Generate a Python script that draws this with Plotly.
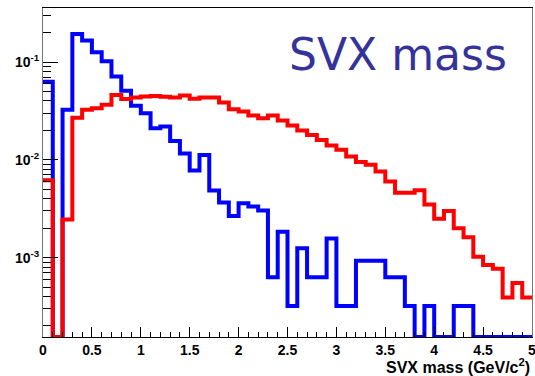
import numpy as np
import plotly.graph_objects as go

# bin edges for the SVX mass histograms (GeV/c^2)
bin_edges = [round(0.1 * i, 1) for i in range(51)]

blue_values = [
    0.063, 0.0, 0.0325, 0.194, 0.166, 0.126, 0.102, 0.071, 0.051, 0.0357,
    0.030, 0.0211, 0.0219, 0.0156, 0.0116, 0.0078, 0.0112, 0.00485, 0.00366, 0.00267,
    0.0036, 0.00333, 0.00303, 0.00063, 0.00184, 0.00032, 0.00125, 0.00063, 0.00063, 0.00157,
    0.00032, 0.00032, 0.00093, 0.00093, 0.00093, 0.00063, 0.00063, 0.00032, 0.0, 0.00032,
    0.0, 0.0, 0.00032, 0.00032, 0.0, 0.0, 0.0, 0.0, 0.0, 0.0,
]

red_values = [
    0.0062, 0.0, 0.00245, 0.027, 0.0325, 0.0338, 0.0366, 0.046, 0.042, 0.0435,
    0.0445, 0.045, 0.0442, 0.0435, 0.0455, 0.0421, 0.0435, 0.0435, 0.0387, 0.033,
    0.0312, 0.0284, 0.0267, 0.0284, 0.0252, 0.0224, 0.0199, 0.018, 0.016, 0.014,
    0.0127, 0.0108, 0.0095, 0.0089, 0.0076, 0.0060, 0.0046, 0.0046, 0.0049, 0.0035,
    0.0025, 0.0030, 0.0020, 0.00162, 0.00102, 0.00084, 0.00077, 0.00039, 0.00055, 0.00039,
]

x_tick_vals = [0, 0.5, 1, 1.5, 2, 2.5, 3, 3.5, 4, 4.5, 5]
x_tick_text = ["0", "0.5", "1", "1.5", "2", "2.5", "3", "3.5", "4", "4.5", "5"]
y_tick_vals = [1e-3, 1e-2, 1e-1]
y_tick_text = ["10<sup>-3</sup>", "10<sup>-2</sup>", "10<sup>-1</sup>"]

Y_LOG_RANGE = [-3.812, -0.447]
y_floor = 10 ** Y_LOG_RANGE[0]


def step_y(vals):
    v = [val if val > 0 else y_floor for val in vals]
    return v + [v[-1]]


fig = go.Figure()
fig.add_trace(go.Scatter(x=bin_edges, y=step_y(blue_values), mode="lines",
                         line=dict(color="#0000ff", width=4, shape="hv"),
                         showlegend=False, hoverinfo="skip"))
fig.add_trace(go.Scatter(x=bin_edges, y=step_y(red_values), mode="lines",
                         line=dict(color="#ff0000", width=4, shape="hv"),
                         showlegend=False, hoverinfo="skip"))

minor_y = [m * 10 ** e for e in (-4, -3, -2, -1) for m in range(2, 10)]
minor_y = [v for v in minor_y if y_floor <= v <= 10 ** Y_LOG_RANGE[1]]
minor_x = [round(0.1 * i, 1) for i in range(51)]

tick_font = dict(family="Liberation Sans, Arial, sans-serif", size=14, color="black", weight="bold")

fig.update_layout(
    width=535, height=376,
    margin=dict(l=43, r=3, t=8, b=39),
    paper_bgcolor="white", plot_bgcolor="white",
    xaxis=dict(range=[0, 5], tickmode="array", tickvals=x_tick_vals, ticktext=x_tick_text,
               ticks="inside", ticklen=10, tickwidth=1, tickcolor="black",
               minor=dict(tickmode="array", tickvals=minor_x, ticks="inside", ticklen=5,
                          tickwidth=1, tickcolor="black", showgrid=False),
               showgrid=False, zeroline=False, showline=True, linecolor="black", linewidth=1,
               mirror=True, tickfont=tick_font, automargin=False, ticklabeloverflow="allow"),
    yaxis=dict(type="log", range=Y_LOG_RANGE, tickmode="array", tickvals=y_tick_vals,
               ticktext=y_tick_text, ticks="inside", ticklen=15, tickwidth=1, tickcolor="black",
               minor=dict(tickmode="array", tickvals=minor_y, ticks="inside", ticklen=8,
                          tickwidth=1, tickcolor="black", showgrid=False),
               showgrid=False, zeroline=False, showline=True, linecolor="#777777", linewidth=1,
               mirror=True, tickfont=tick_font, automargin=False, ticklabeloverflow="allow"),
    annotations=[
        dict(text="SVX mass", xref="paper", yref="paper", x=0.499, y=0.86,
             xanchor="left", yanchor="middle", showarrow=False,
             font=dict(family="DejaVu Sans", size=44, color="#333399")),
        dict(text="SVX mass (GeV/c<sup>2</sup>)", xref="paper", yref="paper", x=1.0, y=-0.088,
             xanchor="right", yanchor="middle", showarrow=False,
             font=dict(family="Liberation Sans, Arial, sans-serif", size=16, color="black",
                       weight="bold")),
    ],
)

fig.write_html("out.html")
